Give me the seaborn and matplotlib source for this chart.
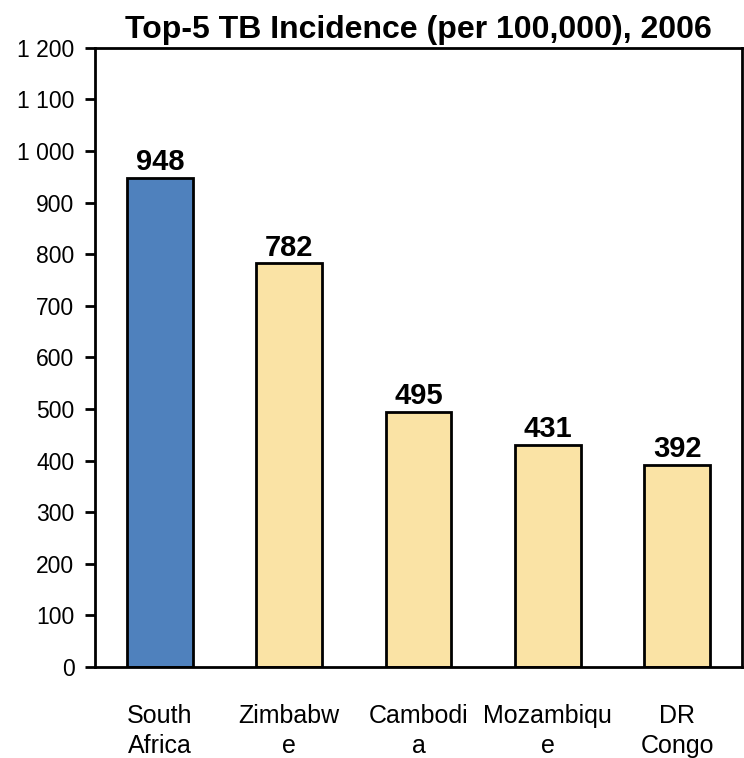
import matplotlib
matplotlib.use("Agg")
import matplotlib.pyplot as plt
import seaborn as sns
import pandas as pd
from matplotlib.ticker import FuncFormatter, MultipleLocator

countries = ["South\nAfrica", "Zimbabw\ne", "Cambodi\na", "Mozambiqu\ne", "DR\nCongo"]
incidence = [948, 782, 495, 431, 392]
bar_colors = ["#4f81bd", "#fae3a5", "#fae3a5", "#fae3a5", "#fae3a5"]

sns.set_style("white")
plt.rcParams["font.family"] = ["Liberation Sans", "DejaVu Sans"]
plt.rcParams["text.color"] = "black"
plt.rcParams["xtick.color"] = "black"
plt.rcParams["ytick.color"] = "black"

df = pd.DataFrame({"country": countries, "incidence": incidence})

fig = plt.figure(figsize=(7.44, 7.58), dpi=100)
ax = fig.add_axes([0.128, 0.12, 0.869, 0.817])

sns.barplot(data=df, x="country", y="incidence", hue="country",
            palette=bar_colors, legend=False, width=0.51,
            edgecolor="black", linewidth=2, saturation=1, ax=ax)

for c in ax.containers:
    ax.bar_label(c, fontsize=21, fontweight="bold", padding=1, color="black")

ax.set_ylim(0, 1200)
ax.set_xlim(-0.5, 4.5)
ax.yaxis.set_major_locator(MultipleLocator(100))
ax.yaxis.set_major_formatter(FuncFormatter(lambda v, p: "{:,.0f}".format(v).replace(",", " ")))
ax.set_xlabel("")
ax.set_ylabel("")
ax.set_title("Top-5 TB Incidence (per 100,000), 2006", fontsize=23, fontweight="bold", pad=7)

for s in ax.spines.values():
    s.set_linewidth(2)
    s.set_color("black")

ax.tick_params(axis="y", which="major", left=True, length=7, width=2, labelsize=16.5, pad=8)
ax.tick_params(axis="x", bottom=False, labelsize=18, pad=23)
for lbl in ax.get_xticklabels():
    lbl.set_linespacing(1.35)

fig.savefig("out.png", dpi=100)
